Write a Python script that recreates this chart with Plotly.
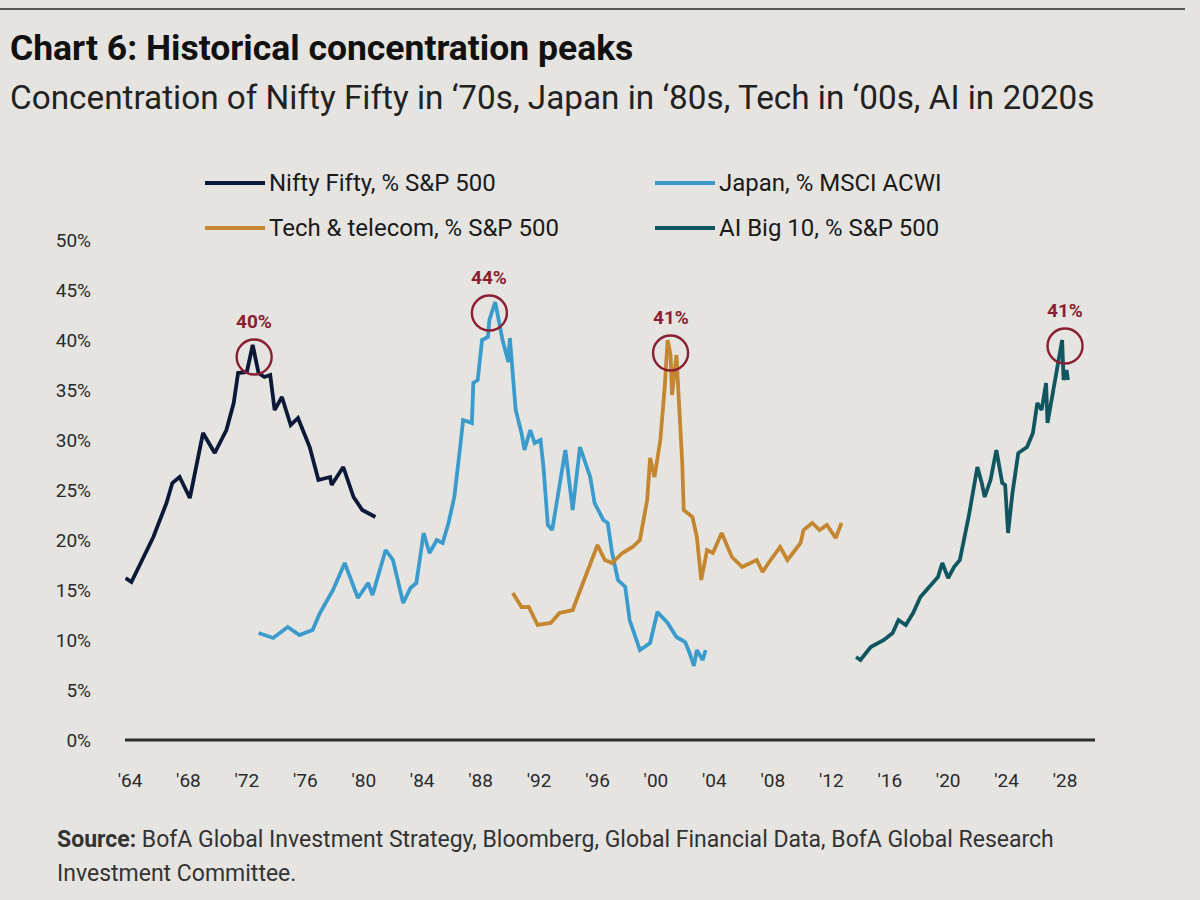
import plotly.graph_objects as go

# ---------------- data ----------------
nifty_x = [1963.7, 1964.1, 1965.6, 1966.5, 1966.9, 1967.4, 1968.1, 1969.0, 1969.8, 1970.6,
           1971.1, 1971.4, 1972.0, 1972.4, 1972.8, 1973.2, 1973.6, 1973.9, 1974.4, 1975.0,
           1975.5, 1976.3, 1976.9, 1977.7, 1977.8, 1978.6, 1979.3, 1979.9, 1980.8]
nifty_y = [16.2, 15.8, 20.3, 23.7, 25.7, 26.3, 24.2, 30.7, 28.7, 31.0,
           33.7, 36.7, 36.8, 39.5, 36.7, 36.3, 36.5, 33.0, 34.3, 31.5,
           32.2, 29.3, 26.0, 26.3, 25.5, 27.3, 24.3, 23.0, 22.3]

japan_x = [1972.8, 1973.8, 1974.8, 1975.6, 1976.5, 1977.0, 1977.9, 1978.7, 1979.6, 1980.3,
           1980.6, 1981.5, 1982.0, 1982.7, 1983.2, 1983.6, 1984.1, 1984.5, 1985.0, 1985.4,
           1985.8, 1986.2, 1986.6, 1986.8, 1987.4, 1987.5, 1987.8, 1988.1, 1988.5, 1988.6,
           1989.0, 1989.3, 1989.5, 1989.9, 1990.0, 1990.4, 1990.8, 1991.0, 1991.4, 1991.7,
           1992.1, 1992.3, 1992.6, 1992.9, 1993.2, 1993.8, 1994.3, 1994.8, 1995.5, 1995.8,
           1996.4, 1996.7, 1997.0, 1997.4, 1997.9, 1998.2, 1998.9, 1999.6, 2000.1, 2000.8,
           2001.4, 2002.0, 2002.3, 2002.6, 2002.8, 2003.2, 2003.4]
japan_y = [10.7, 10.2, 11.3, 10.5, 11.0, 12.7, 15.0, 17.7, 14.2, 15.7,
           14.5, 19.0, 18.0, 13.7, 15.2, 15.7, 20.7, 18.7, 20.0, 19.7,
           21.7, 24.3, 29.3, 32.0, 31.7, 35.7, 36.0, 40.0, 40.3, 42.0,
           43.8, 41.2, 40.0, 37.8, 40.2, 33.0, 30.7, 29.0, 31.0, 29.7,
           30.0, 27.3, 21.5, 21.0, 23.7, 29.0, 23.0, 29.3, 26.3, 23.7,
           22.0, 21.7, 18.7, 16.0, 15.3, 12.0, 9.0, 9.7, 12.8, 11.7,
           10.3, 9.8, 8.7, 7.4, 9.0, 8.0, 9.0]

tech_x = [1990.2, 1990.8, 1991.3, 1991.9, 1992.8, 1993.4, 1994.3, 1994.9, 1995.5, 1996.0,
          1996.5, 1997.0, 1997.7, 1998.4, 1998.9, 1999.4, 1999.6, 1999.9, 2000.3, 2000.6,
          2000.8, 2001.0, 2001.1, 2001.4, 2001.8, 2001.9, 2002.5, 2002.8, 2003.1, 2003.5,
          2003.9, 2004.5, 2005.2, 2005.9, 2006.9, 2007.3, 2007.7, 2008.5, 2009.0, 2009.4,
          2009.9, 2010.1, 2010.7, 2011.2, 2011.7, 2012.3, 2012.7]
tech_y = [14.7, 13.3, 13.3, 11.5, 11.7, 12.7, 13.0, 15.3, 17.7, 19.5,
          18.0, 17.7, 18.7, 19.3, 20.0, 24.0, 28.2, 26.3, 30.0, 35.3,
          40.0, 38.5, 34.5, 38.5, 27.7, 23.0, 22.3, 20.3, 16.0, 19.0,
          18.7, 20.7, 18.3, 17.3, 18.0, 16.8, 17.7, 19.3, 18.0, 18.7,
          19.7, 21.0, 21.7, 21.0, 21.5, 20.2, 21.7]

ai_x = [2013.7, 2014.0, 2014.7, 2015.6, 2016.2, 2016.6, 2017.1, 2017.6, 2018.1, 2018.7,
        2019.3, 2019.6, 2020.0, 2020.4, 2020.8, 2021.4, 2022.0, 2022.3, 2022.5, 2022.9,
        2023.3, 2023.7, 2023.9, 2024.1, 2024.4, 2024.8, 2025.4, 2025.8, 2026.1, 2026.4,
        2026.7, 2026.8, 2027.2, 2027.5, 2027.8, 2027.9, 2028.1, 2028.2]
ai_y = [8.3, 8.0, 9.3, 10.0, 10.7, 12.0, 11.5, 12.7, 14.3, 15.3,
        16.3, 17.7, 16.2, 17.3, 18.0, 22.3, 27.3, 25.7, 24.3, 26.0,
        29.0, 25.7, 25.5, 20.7, 24.7, 28.7, 29.3, 30.7, 33.7, 33.0,
        35.7, 31.7, 35.0, 37.7, 40.0, 36.0, 37.0, 36.0]

series_names = ["Nifty Fifty, % S&P 500", "Japan, % MSCI ACWI",
                "Tech & telecom, % S&P 500", "AI Big 10, % S&P 500"]
series_colors = ["#0c1838", "#3b9bcc", "#c4862e", "#0f5660"]

peak_x = [1972.5, 1988.6, 2001.0, 2028.0]
peak_y = [38.3, 42.7, 38.7, 39.4]
peak_labels = ["40%", "44%", "41%", "41%"]

x_tick_vals = list(range(1964, 2029, 4))
x_tick_text = ["'64", "'68", "'72", "'76", "'80", "'84", "'88", "'92", "'96",
               "'00", "'04", "'08", "'12", "'16", "'20", "'24", "'28"]
y_tick_vals = [0, 5, 10, 15, 20, 25, 30, 35, 40, 45, 50]
y_tick_text = ["0%", "5%", "10%", "15%", "20%", "25%", "30%", "35%", "40%", "45%", "50%"]

title_text = "<b>Chart 6: Historical concentration peaks</b>"
subtitle_text = "Concentration of Nifty Fifty in \u201870s, Japan in \u201880s, Tech in \u201800s, AI in 2020s"
source_line1 = "<b>Source:</b> BofA Global Investment Strategy, Bloomberg, Global Financial Data, BofA Global Research"
source_line2 = "Investment Committee."

# ---------------- layout geometry ----------------
W, H = 1200, 900
ML, MR, MT, MB = 125, 105, 220, 155
PW, PH = W - ML - MR, H - MT - MB
BG = "#e6e4e0"
FONT = "Roboto, Liberation Sans, sans-serif"
RED = "#8a1f33"


def px2x(px):
    return (px - ML) / PW


def px2y(py):
    return (H - MB - py) / PH


fig = go.Figure()
xs = [nifty_x, japan_x, tech_x, ai_x]
ys = [nifty_y, japan_y, tech_y, ai_y]
for name, color, x, y in zip(series_names, series_colors, xs, ys):
    fig.add_trace(go.Scatter(x=x, y=y, mode="lines", name=name,
                             line=dict(color=color, width=3.8),
                             showlegend=False, hoverinfo="skip"))

fig.add_trace(go.Scatter(x=peak_x, y=peak_y, mode="markers", showlegend=False,
                         marker=dict(symbol="circle-open", size=35,
                                     line=dict(color=RED, width=2.4), color=RED),
                         hoverinfo="skip"))
for px_, py_, lab in zip(peak_x, peak_y, peak_labels):
    fig.add_annotation(x=px_, y=py_, text="<b>" + lab + "</b>", showarrow=False,
                       yshift=36, font=dict(family=FONT, size=19, color=RED))

# manual legend (two columns x two rows)
leg_pos = [(205, 183), (655, 183), (205, 228), (655, 228)]
for (lx, ly), name, color in zip(leg_pos, series_names, series_colors):
    fig.add_shape(type="line", xref="paper", yref="paper",
                  x0=px2x(lx), x1=px2x(lx + 60), y0=px2y(ly), y1=px2y(ly),
                  line=dict(color=color, width=4))
    fig.add_annotation(xref="paper", yref="paper", x=px2x(lx + 62), y=px2y(ly),
                       xanchor="left", yanchor="middle", showarrow=False, text=name,
                       font=dict(family=FONT, size=24, color="#1a1a1a"))

# baseline
fig.add_shape(type="line", xref="paper", yref="y", x0=0, x1=1, y0=0, y1=0,
              line=dict(color="#2e2e2e", width=3))
# top rule
fig.add_shape(type="line", xref="paper", yref="paper", x0=px2x(0), x1=px2x(1185),
              y0=px2y(9), y1=px2y(9), line=dict(color="#555555", width=2))

fig.add_annotation(xref="paper", yref="paper", x=px2x(8), y=px2y(48), xanchor="left",
                   yanchor="middle", showarrow=False, text=title_text,
                   font=dict(family=FONT, size=35.5, color="#111111"))
fig.add_annotation(xref="paper", yref="paper", x=px2x(8), y=px2y(97), xanchor="left",
                   yanchor="middle", showarrow=False, text=subtitle_text,
                   font=dict(family=FONT, size=33.3, color="#222222"))
fig.add_annotation(xref="paper", yref="paper", x=px2x(55), y=px2y(839), xanchor="left",
                   yanchor="middle", showarrow=False, text=source_line1,
                   font=dict(family=FONT, size=23, color="#333333"))
fig.add_annotation(xref="paper", yref="paper", x=px2x(55), y=px2y(873), xanchor="left",
                   yanchor="middle", showarrow=False, text=source_line2,
                   font=dict(family=FONT, size=23, color="#333333"))

fig.update_layout(
    width=W, height=H,
    margin=dict(l=ML, r=MR, t=MT, b=MB),
    paper_bgcolor=BG, plot_bgcolor=BG,
    font=dict(family=FONT, color="#2a2a2a"),
    xaxis=dict(range=[1963.66, 2030.05], tickvals=x_tick_vals, ticktext=x_tick_text,
               showgrid=False, zeroline=False, showline=False, ticks="",
               ticklabelstandoff=22, tickfont=dict(family=FONT, size=19, color="#2a2a2a")),
    yaxis=dict(range=[-0.5, 52], tickvals=y_tick_vals, ticktext=y_tick_text,
               showgrid=False, zeroline=False, showline=False, ticks="",
               ticklabelstandoff=33, tickfont=dict(family=FONT, size=19, color="#2a2a2a")),
)

fig.write_html("out.html")
